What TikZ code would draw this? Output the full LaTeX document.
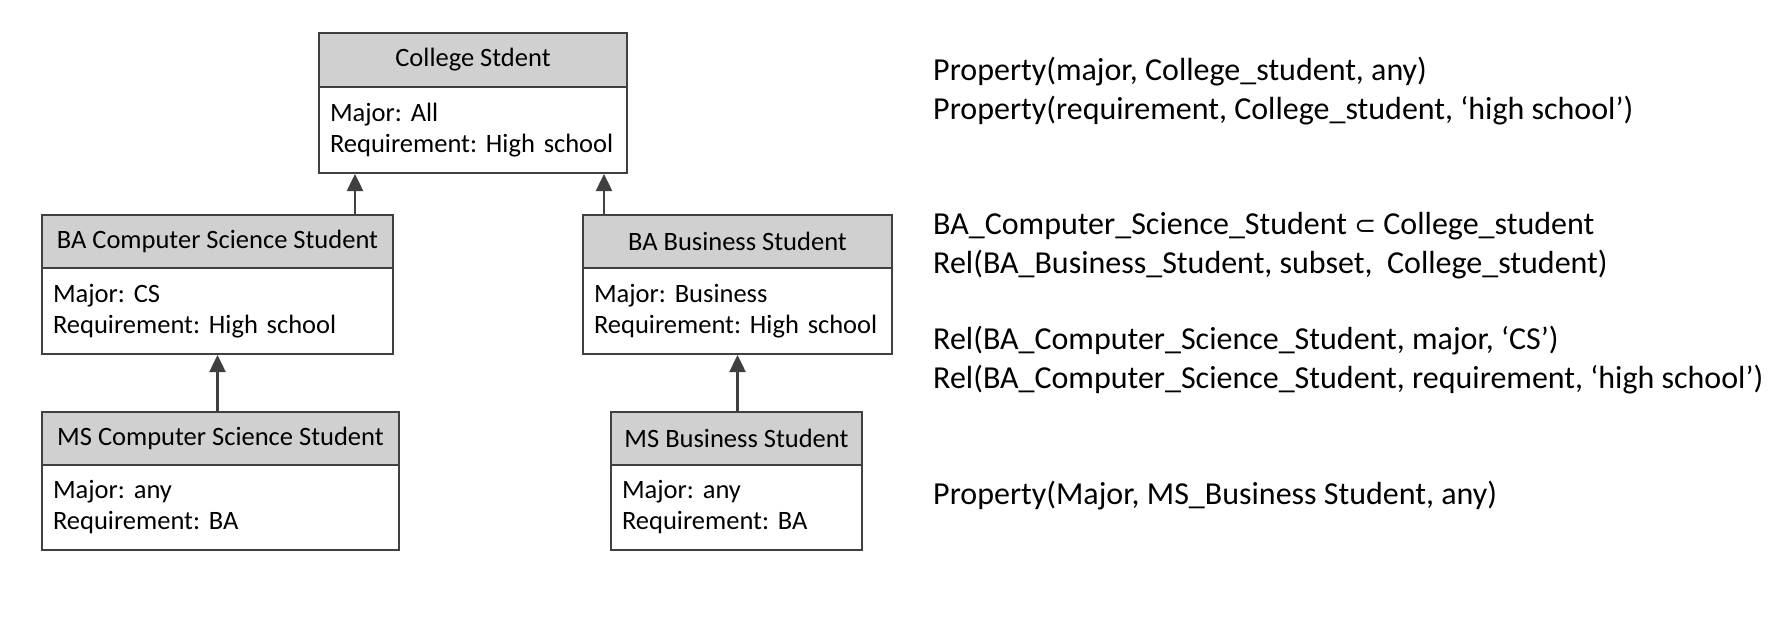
\documentclass[tikz,border=0pt]{standalone}
\usepackage{fontspec}
\setmainfont{Carlito}
\newfontfamily\symfont{DejaVu Sans}
\usetikzlibrary{arrows.meta}
\definecolor{hdr}{HTML}{D0D0D0}
\definecolor{edge}{HTML}{404040}
\frenchspacing
\begin{document}
\begin{tikzpicture}[x=1pt,y=-1pt,
  hd/.style={draw=edge,line width=2pt,fill=hdr,anchor=north west,inner sep=0pt,font=\fontsize{26.5}{31}\selectfont},
  bd/.style={draw=edge,line width=2pt,fill=white,anchor=north west,inner xsep=11pt,inner ysep=0pt,align=left,font=\fontsize{26.5}{31}\selectfont},
  arr/.style={draw=edge,line width=2.5pt,-{Triangle[length=17pt,width=16pt]}},
  fact/.style={anchor=west,align=left,inner sep=0pt,font=\fontsize{32}{39}\selectfont}]
\fill[white] (0,0) rectangle (1789,633);
\useasboundingbox (0,0) rectangle (1789,633);
% College student
\node[hd,minimum width=308pt,minimum height=54pt] (colh) at (318,32) {College Stdent};
\node[bd,text width=286pt,minimum height=86pt] (colb) at (318,86) {Major: All\\Requirement: High school};
% BA CS
\node[hd,minimum width=351pt,minimum height=53pt] (bacsh) at (41,214) {BA Computer Science Student};
\node[bd,text width=329pt,minimum height=86pt] (bacsb) at (41,267) {Major: CS\\Requirement: High school};
% BA Business
\node[hd,minimum width=309pt,minimum height=53pt] (babh) at (582,214) {BA Business Student};
\node[bd,text width=287pt,minimum height=86pt] (babb) at (582,267) {Major: Business\\Requirement: High school};
% MS CS
\node[hd,minimum width=357pt,minimum height=53pt] (mscsh) at (41,411) {MS Computer Science Student};
\node[bd,text width=335pt,minimum height=85pt] (mscsb) at (41,464) {Major: any\\Requirement: BA};
% MS Business
\node[hd,minimum width=251pt,minimum height=53pt] (msbh) at (610,411) {MS Business Student};
\node[bd,text width=229pt,minimum height=85pt] (msbb) at (610,464) {Major: any\\Requirement: BA};
% arrows
\coordinate (ax1) at (355,0);
\coordinate (ax2) at (604,0);
\draw[arr] (bacsh.north -| ax1) -- (colb.south -| ax1);
\draw[arr] (babh.north -| ax2) -- (colb.south -| ax2);
\draw[arr] (mscsh.north -| bacsb.south) -- (bacsb.south);
\draw[arr] (msbh.north -| babb.south) -- (babb.south);
% facts
\node[fact] (f1) at (933,91.5) {Property(major, College\_student, any)\\Property(requirement, College\_student, ‘high school’)};
\node[fact] (f2) at (933,245.5) {BA\_Computer\_Science\_Student {\symfont\fontsize{26}{39}\selectfont ⊂} College\_student\\Rel(BA\_Business\_Student, subset,\ \ College\_student)};
\node[fact] (f3) at (933,360.5) {Rel(BA\_Computer\_Science\_Student, major, ‘CS’)\\Rel(BA\_Computer\_Science\_Student, requirement, ‘high school’)};
\node[fact] (f4) at (933,496) {Property(Major, MS\_Business Student, any)};
\end{tikzpicture}
\end{document}
